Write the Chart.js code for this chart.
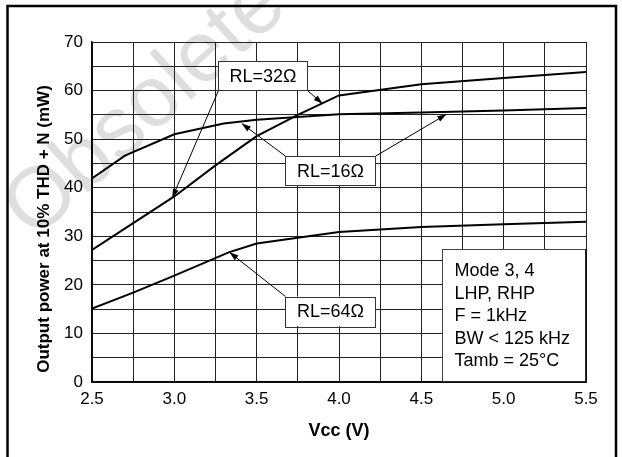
<!DOCTYPE html>
<html><head><meta charset="utf-8">
<script src="https://cdn.jsdelivr.net/npm/chart.js@4"></script>
<style>html,body{margin:0;padding:0;background:#fff}#wrap{width:622px;height:457px}</style>
</head><body><div id="wrap"><canvas id="c" width="622" height="457"></canvas></div>
<script>
// ---- data ----
const vcc16  = [2.5, 2.7, 3.0, 3.3, 3.5, 4.0, 4.5, 5.0, 5.5];
const pout16 = [41.9, 46.6, 51.0, 53.2, 54.0, 55.1, 55.5, 55.9, 56.4];
const vcc32  = [2.5, 3.0, 3.25, 3.5, 3.75, 4.0, 4.5, 5.0, 5.5];
const pout32 = [27.2, 38.2, 44.6, 50.6, 55.0, 59.0, 61.3, 62.6, 63.8];
const vcc64  = [2.5, 2.75, 3.0, 3.33, 3.5, 4.0, 4.5, 5.0, 5.5];
const pout64 = [15.1, 18.4, 21.9, 26.7, 28.5, 30.9, 31.9, 32.5, 33.0];

const xTickLabels = ['2.5', '3.0', '3.5', '4.0', '4.5', '5.0', '5.5'];
const yTickLabels = ['0', '10', '20', '30', '40', '50', '60', '70'];
const xTitle = 'Vcc (V)';
const yTitle = 'Output power at 10% THD + N (mW)';
const curveLabels = ['RL=16\u03A9', 'RL=32\u03A9', 'RL=64\u03A9'];
const infoLines = ['Mode 3, 4', 'LHP, RHP', 'F = 1kHz', 'BW < 125 kHz', 'Tamb = 25\u00B0C'];
const watermark = 'Obsolete Product(s)';

// annotation boxes (data units) and arrow targets
const labelBoxes = [
  { text: curveLabels[1], x0: 3.268, x1: 3.809, y0: 60.0, y1: 66.0,
    arrows: [[3.268, 60.0, 2.987, 37.9], [3.809, 60.0, 3.90, 57.3]] },
  { text: curveLabels[0], x0: 3.675, x1: 4.222, y0: 40.45, y1: 46.5,
    arrows: [[3.675, 46.5, 3.41, 53.2], [4.222, 46.5, 4.652, 55.1]] },
  { text: curveLabels[2], x0: 3.675, x1: 4.222, y0: 11.5, y1: 17.6,
    arrows: [[3.675, 17.6, 3.335, 26.7]] }
];
const infoBox = { x0: 4.628, x1: 5.5, y0: 0, y1: 27.3 };

const FONT = "'Liberation Sans', Arial, Helvetica, sans-serif";

function toXY(xs, ys) { return xs.map((x, i) => ({ x: x, y: ys[i] })); }

const series = [
  { label: curveLabels[0], data: toXY(vcc16, pout16) },
  { label: curveLabels[1], data: toXY(vcc32, pout32) },
  { label: curveLabels[2], data: toXY(vcc64, pout64) }
].map(d => Object.assign(d, {
  showLine: true, borderColor: '#000', borderWidth: 2, pointRadius: 0,
  tension: 0, fill: false
}));

function arrow(ctx, x1, y1, x2, y2) {
  ctx.beginPath();
  ctx.moveTo(x1, y1);
  ctx.lineTo(x2, y2);
  ctx.stroke();
  const a = Math.atan2(y2 - y1, x2 - x1);
  const L = 9, W = 3;
  ctx.beginPath();
  ctx.moveTo(x2, y2);
  ctx.lineTo(x2 - L * Math.cos(a) + W * Math.sin(a), y2 - L * Math.sin(a) - W * Math.cos(a));
  ctx.lineTo(x2 - L * Math.cos(a) - W * Math.sin(a), y2 - L * Math.sin(a) + W * Math.cos(a));
  ctx.closePath();
  ctx.fill();
}

const decor = {
  id: 'decor',
  beforeDraw(chart) {
    const ctx = chart.ctx;
    ctx.save();
    ctx.fillStyle = '#fff';
    ctx.fillRect(0, 0, chart.width, chart.height);
    // faint watermark
    ctx.translate(34, 241);
    ctx.rotate(-42 * Math.PI / 180);
    ctx.font = '86px ' + FONT;
    ctx.fillStyle = '#dedede';
    ctx.textBaseline = 'alphabetic';
    ctx.fillText(watermark, 0, 0);
    ctx.restore();
  },
  afterDatasetsDraw(chart) {
    const ctx = chart.ctx;
    const xs = chart.scales.x, ys = chart.scales.y;
    const X = v => xs.getPixelForValue(v), Y = v => ys.getPixelForValue(v);
    const area = chart.chartArea;
    ctx.save();
    // info box
    const ix0 = X(infoBox.x0), ix1 = X(infoBox.x1), iy0 = Y(infoBox.y1), iy1 = Y(infoBox.y0);
    ctx.fillStyle = '#fff';
    ctx.fillRect(ix0, iy0, ix1 - ix0, iy1 - iy0);
    ctx.strokeStyle = '#444';
    ctx.lineWidth = 1;
    ctx.strokeRect(Math.round(ix0) + 0.5, Math.round(iy0) + 0.5, ix1 - ix0, iy1 - iy0);
    ctx.fillStyle = '#000';
    ctx.font = '18px ' + FONT;
    ctx.textAlign = 'left';
    ctx.textBaseline = 'alphabetic';
    infoLines.forEach((t, i) => ctx.fillText(t, ix0 + 12, iy0 + 27 + i * 22.5));
    // re-stroke plot border over the box
    ctx.strokeStyle = '#000';
    ctx.lineWidth = 1.5;
    ctx.beginPath();
    ctx.moveTo(ix0, area.bottom); ctx.lineTo(area.right, area.bottom); ctx.lineTo(area.right, iy0);
    ctx.stroke();

    // curve label boxes + arrows
    ctx.lineWidth = 1;
    labelBoxes.forEach(b => {
      ctx.strokeStyle = '#000';
      ctx.fillStyle = '#000';
      b.arrows.forEach(a => arrow(ctx, X(a[0]), Y(a[1]), X(a[2]), Y(a[3])));
      const bx0 = X(b.x0), bx1 = X(b.x1), by0 = Y(b.y1), by1 = Y(b.y0);
      ctx.fillStyle = '#fff';
      ctx.fillRect(bx0, by0, bx1 - bx0, by1 - by0);
      ctx.strokeStyle = '#333';
      ctx.strokeRect(Math.round(bx0) + 0.5, Math.round(by0) + 0.5, Math.round(bx1 - bx0), Math.round(by1 - by0));
      ctx.fillStyle = '#000';
      ctx.font = '18px ' + FONT;
      ctx.textAlign = 'center';
      ctx.textBaseline = 'middle';
      ctx.fillText(b.text, (bx0 + bx1) / 2, (by0 + by1) / 2 + 1);
    });

    // y axis title
    ctx.save();
    ctx.translate(area.left - 48, (area.top + area.bottom) / 2 + 17);
    ctx.rotate(-Math.PI / 2);
    ctx.font = 'bold 17px ' + FONT;
    ctx.textAlign = 'center';
    ctx.textBaseline = 'middle';
    ctx.fillStyle = '#000';
    ctx.fillText(yTitle, 0, 0);
    ctx.restore();

    // outer frame
    ctx.strokeStyle = '#000';
    ctx.lineWidth = 2.5;
    ctx.strokeRect(7.5, 6, 608.5, 480);
    ctx.restore();
  }
};

new Chart(document.getElementById('c'), {
  type: 'scatter',
  data: { datasets: series },
  plugins: [decor],
  options: {
    responsive: false,
    animation: false,
    devicePixelRatio: 1,
    layout: { padding: { left: 0, top: 42, right: 36, bottom: 0 } },
    plugins: { legend: { display: false }, tooltip: { enabled: false } },
    scales: {
      x: {
        type: 'linear', min: 2.5, max: 5.5,
        afterBuildTicks: s => {
          const t = [];
          for (let k = 0; k <= 12; k++) t.push({ value: 2.5 + k * 0.25 });
          s.ticks = t;
        },
        afterFit: s => { s.height = 75; },
        grid: { color: '#222', lineWidth: 1, drawTicks: false },
        border: { display: true, color: '#000', width: 1.5 },
        ticks: {
          autoSkip: false, maxRotation: 0, padding: 7, color: '#000',
          font: { family: FONT, size: 17 },
          callback: v => xTickLabels.find(l => Math.abs(parseFloat(l) - v) < 1e-6) || ''
        },
        title: {
          display: true, text: xTitle, color: '#000',
          font: { family: FONT, size: 18, weight: 'bold' },
          padding: { top: 0, bottom: 15 }
        }
      },
      y: {
        type: 'linear', min: 0, max: 70,
        afterBuildTicks: s => {
          const t = [];
          for (let k = 0; k <= 14; k++) t.push({ value: k * 5 });
          s.ticks = t;
        },
        afterFit: s => { s.width = 92; },
        grid: { color: '#222', lineWidth: 1, drawTicks: false },
        border: { display: true, color: '#000', width: 1.5 },
        ticks: {
          autoSkip: false, padding: 9, color: '#000',
          font: { family: FONT, size: 17 },
          callback: v => yTickLabels.find(l => Math.abs(parseFloat(l) - v) < 1e-6) || ''
        },
        title: { display: false }
      }
    }
  }
});
</script>
</body></html>
